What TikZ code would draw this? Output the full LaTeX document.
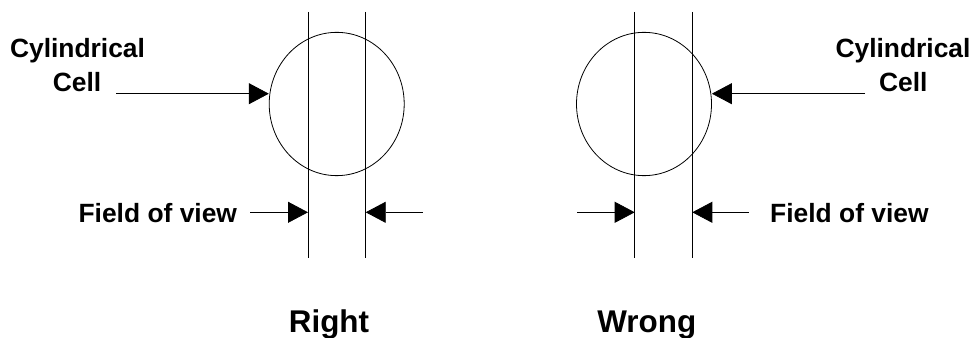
\documentclass[tikz,border=0pt]{standalone}
\usepackage{fontspec}
\setmainfont{Liberation Sans}
\usetikzlibrary{arrows.meta,shapes.geometric}
\begin{document}
\begin{tikzpicture}[x=1pt,y=1pt,
  lbl/.style={anchor=base,inner sep=0pt,font=\fontsize{26.4}{30}\selectfont\bfseries},
  ttl/.style={anchor=base,inner sep=0pt,font=\fontsize{31.4}{36}\selectfont\bfseries},
  cellshape/.style={draw,ellipse,minimum width=135pt,minimum height=143.3pt,inner sep=0pt,line width=0.8pt},
  vline/.style={line width=0.8pt},
  arr/.style={line width=0.8pt,-{Triangle[length=20pt,width=21pt]}}]
\useasboundingbox (0,0) rectangle (973,337);
% ---- Right ----
\node[cellshape] (cellA) at (336.7,233) {};
\coordinate (A1t) at (308,325); \coordinate (A1b) at (308,79.3);
\coordinate (A2t) at (365.7,325); \coordinate (A2b) at (365.7,79.3);
\draw[vline] (A1t) -- (A1b);
\draw[vline] (A2t) -- (A2b);
\node[lbl] (cylA) at (77.5,279) {Cylindrical};
\node[lbl] (celA) at (77,245) {Cell};
\coordinate (aAs) at (116,243.3);
\draw[arr] (aAs) -- (aAs -| cellA.west);
\node[lbl] (fovA) at (157.8,114) {Field of view};
\coordinate (fA1) at (250,124.7);
\coordinate (fA2) at (422.7,124.7);
\draw[arr] (fA1) -- (fA1 -| A1t);
\draw[arr] (fA2) -- (fA2 -| A2t);
\node[ttl] (right) at (329,5) {Right};
% ---- Wrong ----
\node[cellshape] (cellB) at (644,233) {};
\coordinate (B1t) at (634.7,325); \coordinate (B1b) at (634.7,79.3);
\coordinate (B2t) at (692.3,325); \coordinate (B2b) at (692.3,79.3);
\draw[vline] (B1t) -- (B1b);
\draw[vline] (B2t) -- (B2b);
\node[lbl] (cylB) at (903,279) {Cylindrical};
\node[lbl] (celB) at (903.3,245) {Cell};
\coordinate (aBs) at (865,243.3);
\draw[arr] (aBs) -- (aBs -| cellB.east);
\node[lbl] (fovB) at (849.4,114) {Field of view};
\coordinate (fB1) at (577,124.7);
\coordinate (fB2) at (748.7,124.7);
\draw[arr] (fB1) -- (fB1 -| B1t);
\draw[arr] (fB2) -- (fB2 -| B2t);
\node[ttl] (wrong) at (646.8,5) {Wrong};
\end{tikzpicture}
\end{document}
